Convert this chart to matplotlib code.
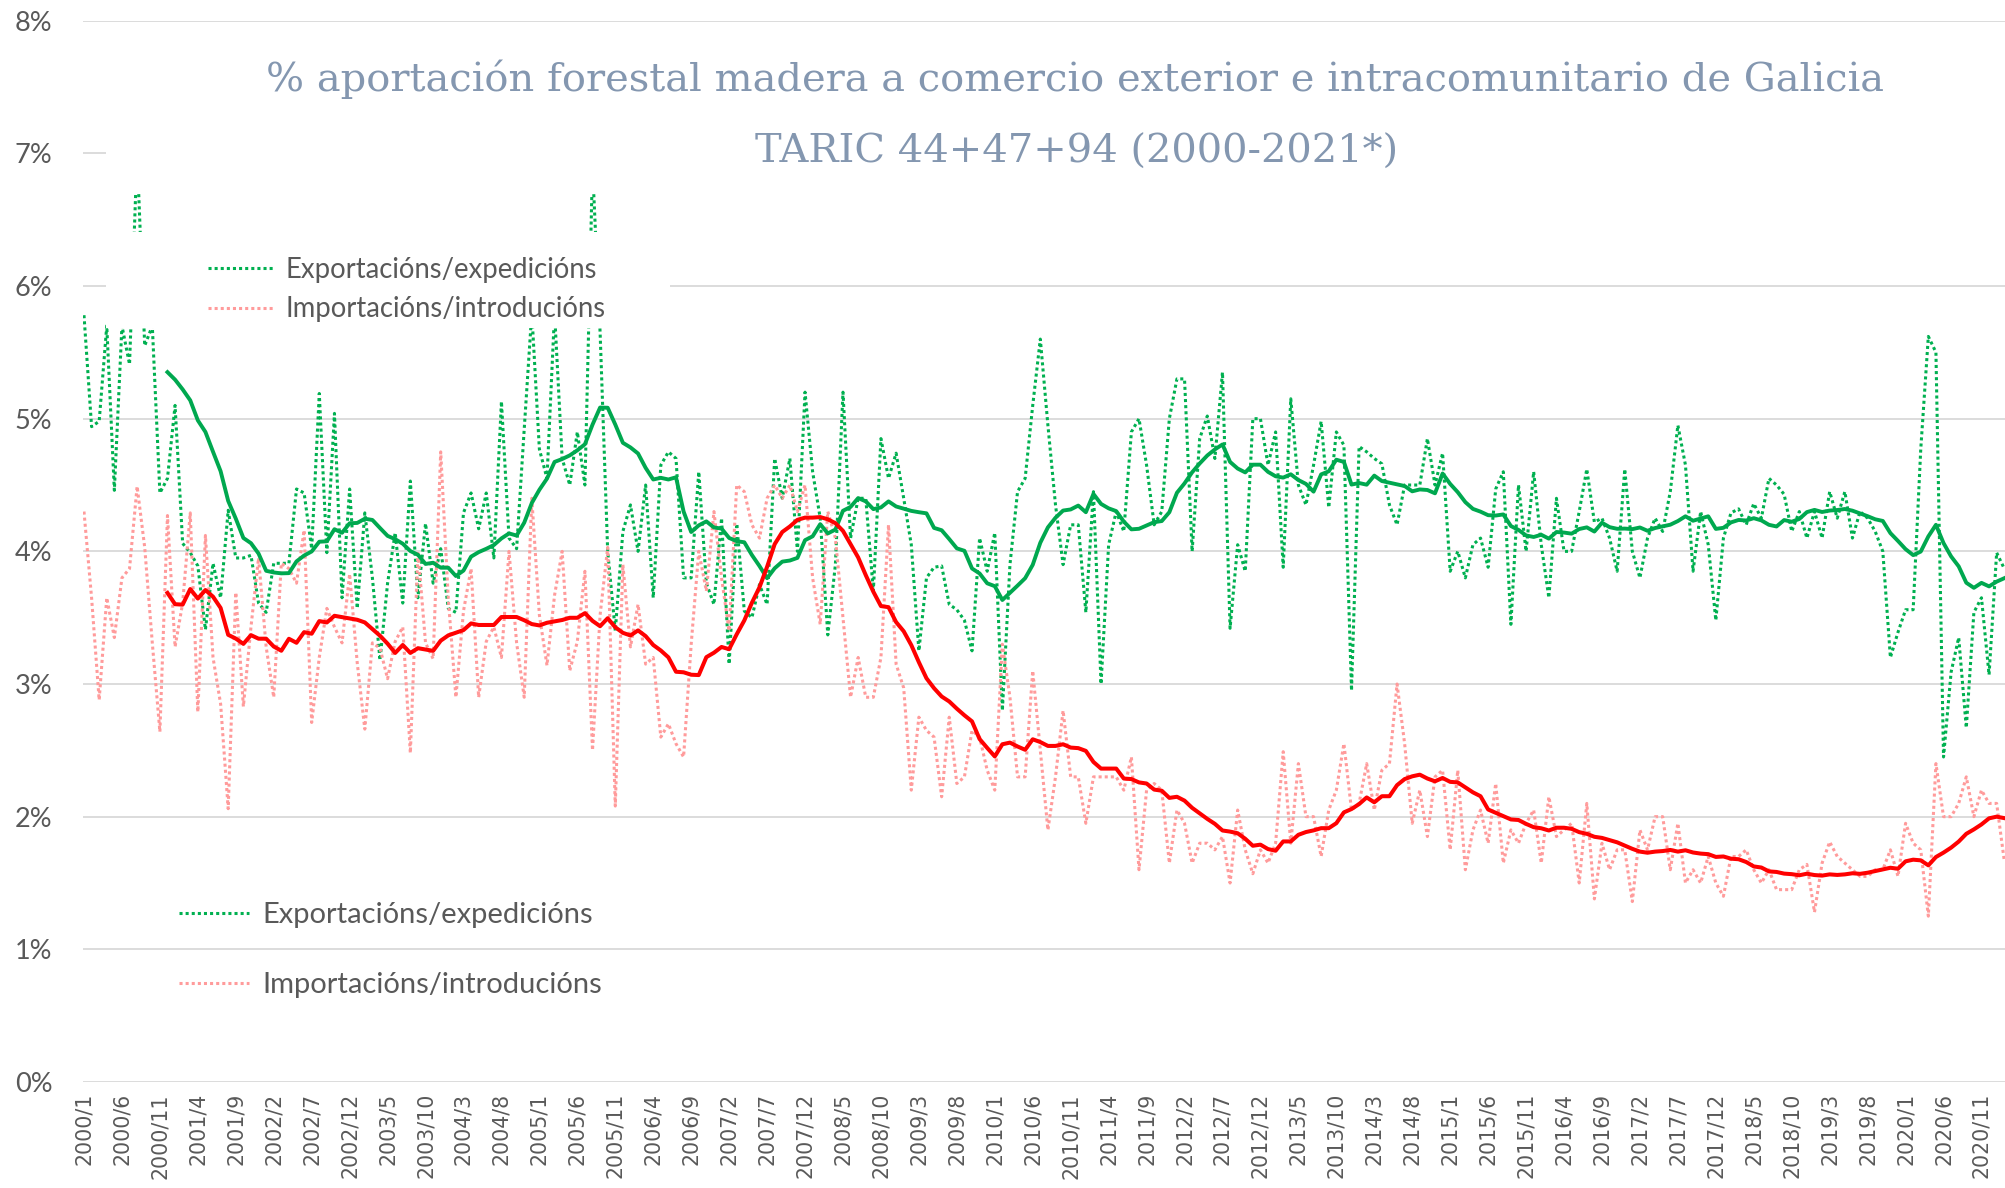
import numpy as np
import pandas as pd
import matplotlib
matplotlib.use("Agg")
import matplotlib.pyplot as plt
from matplotlib.patches import Rectangle
from matplotlib.lines import Line2D

# % mensual desde 2000/1 ata 2021/2
exportacions = [
    5.78, 4.94, 4.98, 5.70, 4.46, 5.70, 5.41, 7.00, 5.55, 5.70, 4.44, 4.55,
    5.10, 4.06, 3.99, 3.89, 3.41, 3.91, 3.65, 4.31, 3.95, 3.95, 3.97, 3.61,
    3.54, 3.91, 3.91, 3.91, 4.47, 4.44, 4.02, 5.19, 3.99, 5.04, 3.65, 4.47,
    3.57, 4.29, 3.80, 3.18, 3.76, 4.14, 3.61, 4.53, 3.65, 4.21, 3.76, 4.02,
    3.57, 3.54, 4.29, 4.44, 4.17, 4.44, 3.95, 5.13, 4.10, 4.02, 4.92, 5.80,
    4.77, 4.55, 5.80, 4.70, 4.50, 4.90, 4.50, 6.90, 5.65, 4.00, 3.40, 4.15,
    4.35, 4.00, 4.50, 3.65, 4.65, 4.75, 4.70, 3.80, 3.80, 4.60, 3.76, 3.60,
    4.25, 3.15, 4.21, 3.55, 3.50, 3.75, 3.60, 4.70, 4.40, 4.70, 4.00, 5.20,
    4.60, 4.25, 3.37, 3.90, 5.20, 4.10, 4.40, 4.40, 3.70, 4.85, 4.55, 4.74,
    4.40, 4.05, 3.25, 3.80, 3.88, 3.89, 3.60, 3.56, 3.48, 3.25, 4.10, 3.85,
    4.14, 2.80, 3.90, 4.45, 4.55, 5.10, 5.60, 4.95, 4.35, 3.90, 4.20, 4.20,
    3.54, 4.45, 3.00, 4.05, 4.30, 4.15, 4.90, 5.00, 4.65, 4.20, 4.30, 5.00,
    5.30, 5.30, 4.00, 4.85, 5.02, 4.70, 5.35, 3.42, 4.05, 3.85, 5.00, 5.00,
    4.65, 4.90, 3.88, 5.15, 4.50, 4.35, 4.65, 4.98, 4.33, 4.90, 4.80, 2.95,
    4.79, 4.75, 4.70, 4.66, 4.35, 4.20, 4.50, 4.50, 4.50, 4.85, 4.50, 4.74,
    3.85, 4.00, 3.80, 4.05, 4.10, 3.88, 4.47, 4.60, 3.45, 4.50, 4.00, 4.60,
    4.05, 3.65, 4.40, 4.00, 4.00, 4.30, 4.62, 4.22, 4.25, 4.10, 3.85, 4.62,
    4.00, 3.80, 4.10, 4.25, 4.15, 4.45, 4.95, 4.65, 3.85, 4.30, 4.05, 3.48,
    4.10, 4.29, 4.32, 4.20, 4.36, 4.25, 4.55, 4.50, 4.43, 4.15, 4.30, 4.10,
    4.30, 4.10, 4.45, 4.25, 4.45, 4.10, 4.30, 4.25, 4.15, 4.00, 3.20, 3.39,
    3.56, 3.56, 4.77, 5.62, 5.50, 2.45, 3.09, 3.35, 2.67, 3.54, 3.65, 3.07,
    3.99, 3.87,
]

importacions = [
    4.30, 3.65, 2.88, 3.65, 3.35, 3.80, 3.87, 4.49, 4.03, 3.31, 2.64, 4.27,
    3.28, 3.61, 4.29, 2.79, 4.12, 3.20, 2.85, 2.06, 3.69, 2.83, 3.43, 3.95,
    3.28, 2.90, 3.91, 3.87, 3.76, 4.16, 2.71, 3.20, 3.57, 3.43, 3.31, 3.83,
    3.16, 2.66, 3.31, 3.27, 3.04, 3.32, 3.43, 2.48, 4.00, 3.31, 3.19, 4.75,
    3.64, 2.90, 3.55, 3.87, 2.90, 3.32, 3.43, 3.20, 4.00, 3.31, 2.90, 4.40,
    3.52, 3.14, 3.67, 4.00, 3.10, 3.32, 3.85, 2.50, 3.52, 4.03, 2.08, 3.90,
    3.28, 3.60, 3.15, 3.20, 2.60, 2.70, 2.55, 2.45, 3.30, 4.00, 3.70, 4.30,
    3.80, 3.40, 4.50, 4.45, 4.20, 4.10, 4.40, 4.50, 4.40, 4.50, 4.30, 4.50,
    3.80, 3.45, 4.30, 4.10, 3.50, 2.90, 3.20, 2.90, 2.90, 3.20, 4.20, 3.15,
    2.97, 2.20, 2.75, 2.65, 2.60, 2.15, 2.75, 2.25, 2.30, 2.65, 2.60, 2.35,
    2.20, 3.30, 2.90, 2.30, 2.30, 3.10, 2.50, 1.90, 2.30, 2.80, 2.30, 2.30,
    1.95, 2.30, 2.30, 2.30, 2.30, 2.20, 2.45, 1.60, 2.20, 2.25, 2.20, 1.65,
    2.05, 1.95, 1.65, 1.80, 1.80, 1.75, 1.85, 1.50, 2.05, 1.75, 1.57, 1.75,
    1.65, 1.80, 2.49, 1.80, 2.40, 2.00, 2.00, 1.70, 2.05, 2.20, 2.55, 2.05,
    2.10, 2.40, 2.05, 2.35, 2.40, 3.00, 2.55, 1.95, 2.20, 1.85, 2.30, 2.35,
    1.75, 2.35, 1.60, 1.90, 2.05, 1.80, 2.25, 1.65, 1.90, 1.80, 1.95, 2.05,
    1.65, 2.15, 1.85, 1.90, 1.95, 1.50, 2.10, 1.38, 1.80, 1.60, 1.75, 1.75,
    1.36, 1.90, 1.75, 2.00, 2.00, 1.60, 1.95, 1.50, 1.60, 1.50, 1.70, 1.50,
    1.40, 1.70, 1.70, 1.75, 1.60, 1.50, 1.60, 1.45, 1.45, 1.45, 1.60, 1.64,
    1.28, 1.65, 1.81, 1.70, 1.65, 1.60, 1.55, 1.55, 1.60, 1.60, 1.75, 1.55,
    1.95, 1.80, 1.75, 1.25, 2.40, 2.00, 2.00, 2.10, 2.30, 2.00, 2.20, 2.10,
    2.10, 1.67,
]

meses = [f"{2000 + i // 12}/{i % 12 + 1}" for i in range(len(exportacions))]

titulo = ["% aportación forestal madera a comercio exterior e intracomunitario de Galicia",
          "TARIC 44+47+94 (2000-2021*)"]
serie_exp = "Exportacións/expedicións"
serie_imp = "Importacións/introducións"

verde = "#00B050"
rosa = "#FF9B9B"
vermello = "#FF0000"
gris = "#595959"

df = pd.DataFrame({"exp": exportacions, "imp": importacions}, index=meses)
media_exp = df["exp"].rolling(12).mean()  # media móbil 12 meses
media_imp = df["imp"].rolling(12).mean()

W, H = 2005, 1188
fig = plt.figure(figsize=(W / 100, H / 100), dpi=100)


def fx(px):
    return px / W


def fy(py):
    return 1 - py / H


ax = fig.add_axes([fx(83), fy(1082), fx(2005) - fx(83), fy(20.7) - fy(1082)])
x = np.arange(len(meses))

ax.plot(x, df["exp"], color=verde, lw=2.2, ls=(0, (1, 1)), zorder=2)
ax.plot(x, df["imp"], color=rosa, lw=2.2, ls=(0, (1, 1)), zorder=2)
ax.plot(x, media_exp, color="#00A84F", lw=2.8, zorder=3, solid_joinstyle="round")
ax.plot(x, media_imp, color=vermello, lw=2.9, zorder=3, solid_joinstyle="round")

ax.set_xlim(-0.13, 253.1)
ax.set_ylim(0, 8)
ax.set_yticks(range(9))
ax.set_yticklabels([f"{i}%" for i in range(9)], fontfamily="Lato", fontsize=19.5, color=gris)
ax.set_xticks(x[::5])
ax.set_xticklabels(meses[::5], rotation=90, fontfamily="DejaVu Sans", fontsize=14.8, color=gris, va="top")
ax.tick_params(axis="y", length=0, pad=22)
ax.tick_params(axis="x", length=0, pad=8)
ax.yaxis.grid(True, color="#D9D9D9", lw=1.3)
ax.set_axisbelow(True)
for s in ax.spines.values():
    s.set_visible(False)

# caixas brancas do título e da lenda que tapan as liñas
ax.add_patch(Rectangle((fx(106), fy(194)), fx(2005) - fx(106), fy(28) - fy(194),
                       transform=fig.transFigure, facecolor="white", edgecolor="none",
                       zorder=4, clip_on=False))
ax.add_patch(Rectangle((fx(106), fy(328)), fx(670) - fx(106), fy(232) - fy(328),
                       transform=fig.transFigure, facecolor="white", edgecolor="none",
                       zorder=4, clip_on=False))

fig.text(fx(1075), fy(79), titulo[0], ha="center", va="center", fontsize=28.8,
         fontfamily="DejaVu Serif", color="#8497B0")
fig.text(fx(1077), fy(152), titulo[1], ha="center", va="center", fontsize=28.8,
         fontfamily="DejaVu Serif", color="#8497B0")

h_exp = Line2D([], [], color=verde, lw=2.2, ls=(0, (1, 1)))
h_imp = Line2D([], [], color=rosa, lw=2.2, ls=(0, (1, 1)))

leg1 = ax.legend([h_exp, h_imp], [serie_exp, serie_imp], loc="upper left",
                 bbox_to_anchor=(fx(208), fy(257)), bbox_transform=fig.transFigure,
                 frameon=False, borderpad=0, borderaxespad=0, handlelength=2.4,
                 handletextpad=0.4, labelspacing=0.48,
                 prop={"family": "Lato", "size": 19.8}, labelcolor=gris)
leg1.set_zorder(6)
ax.add_artist(leg1)

leg2 = ax.legend([h_exp, h_imp], [serie_exp, serie_imp], loc="upper left",
                 bbox_to_anchor=(fx(179), fy(902)), bbox_transform=fig.transFigure,
                 frameon=False, borderpad=0, borderaxespad=0, handlelength=2.4,
                 handletextpad=0.45, labelspacing=1.5,
                 prop={"family": "Lato", "size": 21}, labelcolor=gris)

fig.savefig("out.png", dpi=100, facecolor="white")
